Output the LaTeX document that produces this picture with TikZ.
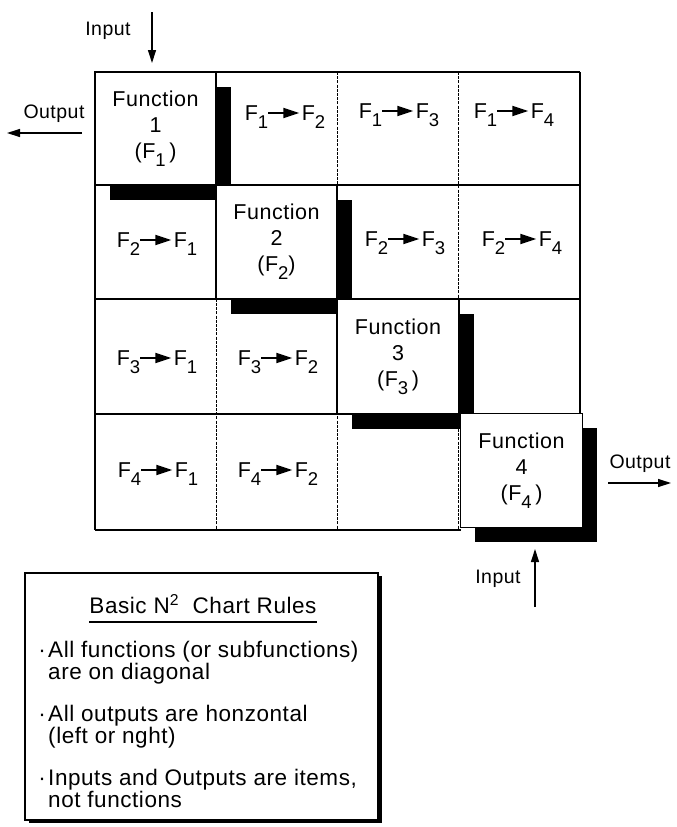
\documentclass[tikz,border=0pt]{standalone}
\usepackage{fontspec}
\setmainfont{Liberation Sans}[LetterSpace=2.5]
\usetikzlibrary{arrows.meta,shadows}
\newcommand\fsub[1]{\raisebox{-8pt}{\fontsize{18.5}{18}\selectfont #1}}
\newcommand\farr{\tikz[baseline=0pt]\draw[line width=2pt,-{Triangle[length=16pt,width=10pt]}] (0pt,7pt) -- (31pt,7pt);}
\newcommand\flow[2]{F\fsub{#1}\kern-1pt\farr\kern1.5pt F\fsub{#2}}
\tikzset{
  gridh/.style={line width=1.2pt},
  gridv/.style={line width=0.9pt, dash pattern=on 3pt off 1.2pt},
  fbox/.style={draw, line width=1.3pt, fill=white, inner sep=0pt, outer sep=0pt,
    align=center, font=\fontsize{21.5}{26}\selectfont,
    general shadow={fill=black, shadow xshift=14.5pt, shadow yshift=-14.5pt}},
  flowtxt/.style={anchor=base, inner sep=0pt, font=\fontsize{21.5}{25}\selectfont},
  iotxt/.style={anchor=base, inner sep=0pt, font=\fontsize{19.5}{22}\selectfont},
  io/.style={line width=1.3pt, -{Triangle[length=13pt,width=8pt]}},
  rbox/.style={draw, line width=1.3pt, fill=white, inner sep=0pt,
    general shadow={fill=black, shadow xshift=4pt, shadow yshift=-3pt}},
  rtxt/.style={anchor=base west, inner sep=0pt, font=\fontsize{22.5}{26}\selectfont},
}
\begin{document}
\begin{tikzpicture}[x=1pt,y=-1pt]
\useasboundingbox (0,0) rectangle (677,827);
\fill[white] (0,0) rectangle (677,827);

% grid
\draw[gridh] (95,72) -- (580,72);
\draw[gridh] (95,72) -- (95,530);
\draw[gridh] (95,530) -- (461,530);
\draw[gridh] (580,72) -- (580,414);
\draw[gridh] (95,185) -- (580,185);
\draw[gridh] (95,299) -- (580,299);
\draw[gridh] (95,414) -- (580,414);
\draw[gridv] (216,72) -- (216,530);
\draw[gridv] (337,72) -- (337,530);
\draw[gridv] (458,72) -- (458,530);

% off-diagonal cells
\node[flowtxt] (c12) at (285,120) {\flow{1}{2}};
\node[flowtxt] (c13) at (399,118) {\flow{1}{3}};
\node[flowtxt] (c14) at (514,118) {\flow{1}{4}};
\node[flowtxt] (c21) at (157,247) {\flow{2}{1}};
\node[flowtxt] (c23) at (405,246) {\flow{2}{3}};
\node[flowtxt] (c24) at (522,246) {\flow{2}{4}};
\node[flowtxt] (c31) at (157,365) {\flow{3}{1}};
\node[flowtxt] (c32) at (278,365) {\flow{3}{2}};
\node[flowtxt] (c41) at (158,477) {\flow{4}{1}};
\node[flowtxt] (c42) at (278,477) {\flow{4}{2}};

% function boxes
\node[fbox, minimum width=121pt, minimum height=113pt] (f1) at (155.5,128.5) {Function\\1\\(F\fsub{1}\,)};
\node[fbox, minimum width=121pt, minimum height=114pt] (f2) at (276.5,242) {Function\\2\\(F\fsub{2})};
\node[fbox, minimum width=122pt, minimum height=115pt] (f3) at (398,356.5) {Function\\3\\(F\fsub{3}\,)};
\node[fbox, minimum width=122pt, minimum height=114pt] (f4) at (521.5,470.5) {Function\\4\\(F\fsub{4}\,)};

% inputs and outputs
\node[iotxt] (in1) at (108,35) {Input};
\coordinate (in1s) at (152,12);
\coordinate (in1e) at (152,63);
\draw[io] (in1s) -- (in1e);

\node[iotxt] (out1) at (54,118) {Output};
\coordinate (out1s) at (82,133);
\coordinate (out1e) at (7,133);
\draw[io] (out1s) -- (out1e);

\node[iotxt] (out4) at (640,468) {Output};
\coordinate (out4s) at (608,483);
\coordinate (out4e) at (671,483);
\draw[io] (out4s) -- (out4e);

\node[iotxt] (in4) at (498,583) {Input};
\coordinate (in4s) at (535,607);
\coordinate (in4e) at (535,549);
\draw[io] (in4s) -- (in4e);

% rules box
\node[rbox, minimum width=353pt, minimum height=247pt] (rules) at (201.5,696.5) {};
\node[anchor=base, inner sep=0pt, font=\fontsize{22.5}{26}\selectfont] (title) at (203,613) {Basic N\textsuperscript{2}\ \ Chart Rules};
\draw[line width=1.3pt] ([yshift=-9pt]title.base west) -- ([yshift=-9pt]title.base east);
\node[rtxt] (b1) at (36,657) {\makebox[12pt][c]{·}All functions (or subfunctions)};
\node[rtxt] (b1b) at (48,679) {are on diagonal};
\node[rtxt] (b2) at (36,721) {\makebox[12pt][c]{·}All outputs are honzontal};
\node[rtxt] (b2b) at (48,743) {(left or nght)};
\node[rtxt] (b3) at (36,785) {\makebox[12pt][c]{·}Inputs and Outputs are items,};
\node[rtxt] (b3b) at (48,807) {not functions};
\end{tikzpicture}
\end{document}
